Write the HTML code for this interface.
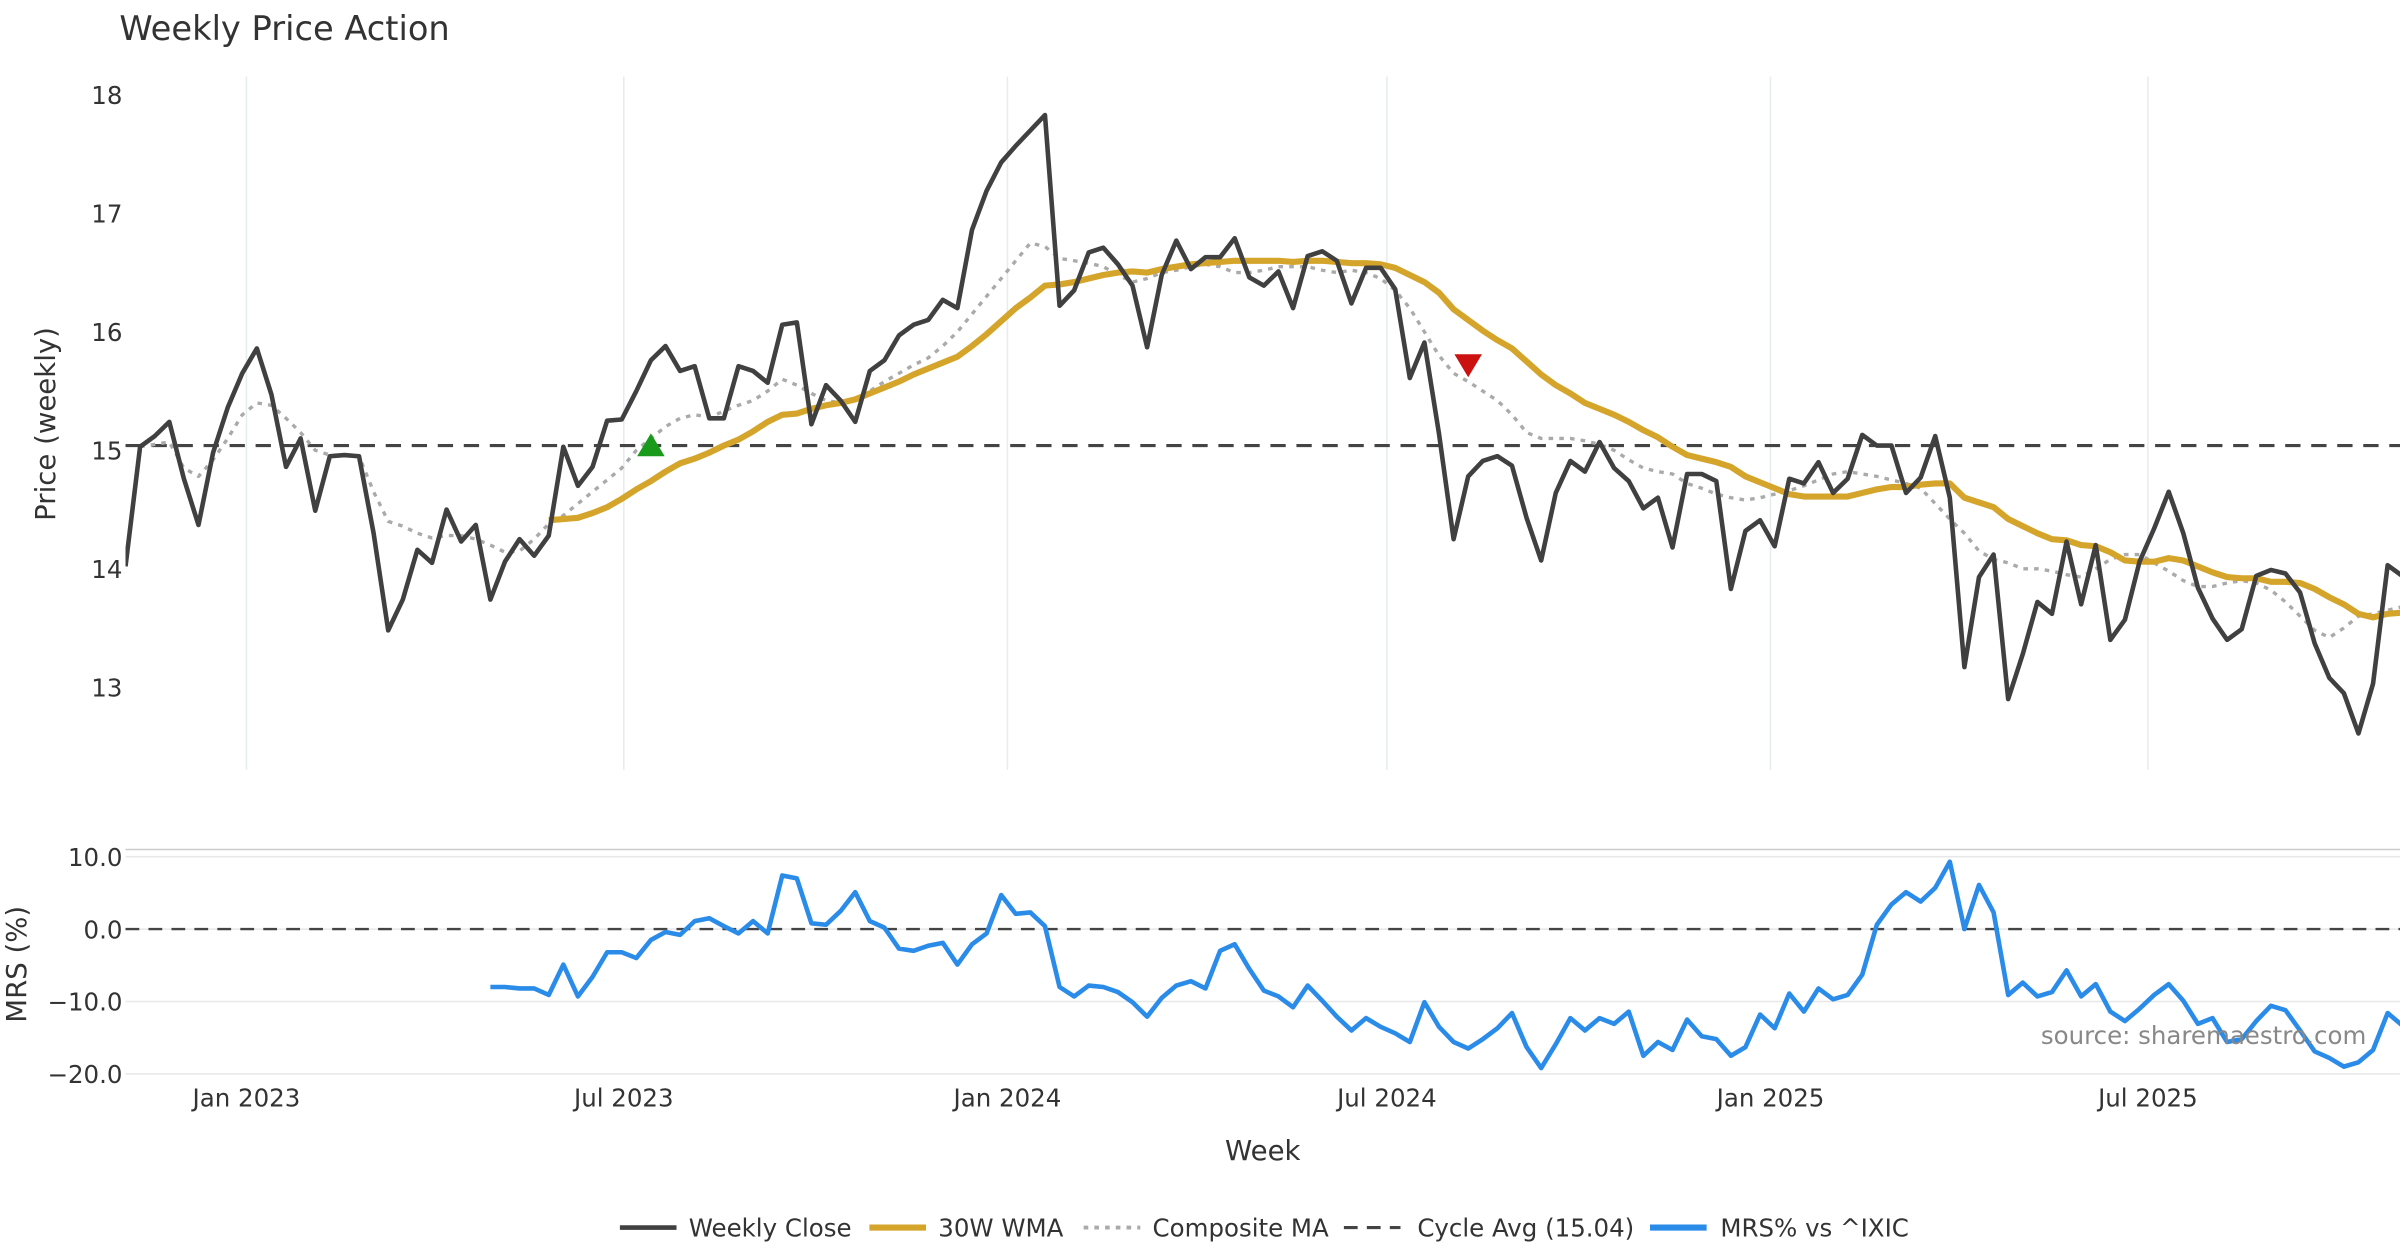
<!DOCTYPE html>
<html><head><meta charset="utf-8"><style>
html,body{margin:0;padding:0;background:#fff}
svg{display:block}
text{font-family:"DejaVu Sans","Liberation Sans",sans-serif;fill:#333}
</style></head><body>
<svg id="chart" width="2400" height="1260" viewBox="0 0 1568 823.2" xmlns="http://www.w3.org/2000/svg">
<defs>
<clipPath id="cTop"><rect x="82" y="45" width="1486" height="460"/></clipPath>
<clipPath id="cBot"><rect x="82" y="550" width="1486" height="160"/></clipPath>
</defs>
<text x="78" y="26" font-size="22">Weekly Price Action</text>
<g id="gridTop"></g><g id="gridBot"></g>
<line x1="82" x2="1568" y1="555" y2="555" stroke="#ccc" stroke-width="1"/>
<g id="topPlot" clip-path="url(#cTop)"></g>
<g id="botPlot" clip-path="url(#cBot)"></g>
<g id="axesG"></g>
<text transform="translate(36,277) rotate(-90)" text-anchor="middle" font-size="18">Price (weekly)</text>
<text transform="translate(17,630) rotate(-90)" text-anchor="middle" font-size="18">MRS (%)</text>
<text x="825" y="758" text-anchor="middle" font-size="18">Week</text>
<text x="1546" y="682" text-anchor="end" font-size="16" style="fill:#888">source: sharemaestro.com</text>
<g id="legendG"></g>
</svg>
<script>
const closeVals=[14.02,15.03,15.12,15.24,14.76,14.37,14.98,15.36,15.65,15.86,15.47,14.86,15.1,14.49,14.95,14.96,14.95,14.3,13.48,13.74,14.16,14.05,14.5,14.23,14.37,13.74,14.06,14.25,14.11,14.28,15.03,14.7,14.86,15.25,15.26,15.5,15.76,15.88,15.67,15.71,15.27,15.27,15.71,15.67,15.57,16.06,16.08,15.22,15.55,15.42,15.24,15.67,15.76,15.97,16.06,16.1,16.27,16.2,16.86,17.19,17.43,17.57,17.7,17.83,16.22,16.35,16.67,16.71,16.57,16.39,15.87,16.48,16.77,16.53,16.63,16.63,16.79,16.46,16.39,16.51,16.2,16.64,16.68,16.6,16.24,16.54,16.54,16.36,15.61,15.91,15.14,14.25,14.78,14.91,14.95,14.87,14.43,14.07,14.64,14.91,14.82,15.07,14.85,14.74,14.51,14.6,14.18,14.8,14.8,14.74,13.83,14.32,14.41,14.19,14.76,14.72,14.9,14.64,14.76,15.13,15.04,15.04,14.64,14.77,15.12,14.6,13.17,13.93,14.12,12.9,13.28,13.72,13.62,14.23,13.7,14.2,13.4,13.57,14.06,14.34,14.65,14.3,13.84,13.58,13.4,13.49,13.94,13.99,13.96,13.8,13.37,13.08,12.95,12.61,13.03,14.03,13.94];
const wmaVals=[14.41,14.42,14.43,14.47,14.52,14.59,14.67,14.74,14.82,14.89,14.93,14.98,15.04,15.09,15.16,15.24,15.3,15.31,15.35,15.38,15.4,15.43,15.48,15.53,15.58,15.64,15.69,15.74,15.79,15.88,15.98,16.09,16.2,16.29,16.39,16.4,16.42,16.45,16.48,16.5,16.51,16.5,16.53,16.55,16.57,16.58,16.59,16.6,16.6,16.6,16.6,16.59,16.6,16.6,16.59,16.58,16.58,16.57,16.54,16.48,16.42,16.33,16.19,16.1,16.01,15.93,15.86,15.75,15.64,15.55,15.48,15.4,15.35,15.3,15.24,15.17,15.11,15.03,14.96,14.93,14.9,14.86,14.78,14.73,14.68,14.63,14.61,14.61,14.61,14.61,14.64,14.67,14.69,14.69,14.71,14.72,14.72,14.6,14.56,14.52,14.42,14.36,14.3,14.25,14.24,14.2,14.19,14.14,14.07,14.06,14.06,14.09,14.07,14.02,13.97,13.93,13.92,13.92,13.89,13.89,13.88,13.83,13.76,13.7,13.62,13.59,13.62,13.63];
const compVals=[15.03,15.05,15.07,14.85,14.78,14.92,15.1,15.3,15.4,15.38,15.27,15.15,15.0,14.96,14.96,14.95,14.65,14.4,14.36,14.3,14.26,14.28,14.28,14.25,14.2,14.14,14.15,14.25,14.38,14.45,14.55,14.65,14.75,14.85,15.0,15.1,15.2,15.27,15.3,15.28,15.33,15.38,15.42,15.5,15.6,15.55,15.48,15.42,15.4,15.42,15.5,15.58,15.65,15.72,15.78,15.88,16.0,16.15,16.3,16.45,16.6,16.75,16.72,16.62,16.6,16.58,16.55,16.48,16.42,16.45,16.5,16.52,16.55,16.57,16.55,16.5,16.5,16.52,16.55,16.55,16.55,16.52,16.5,16.52,16.5,16.45,16.35,16.2,16.0,15.8,15.65,15.58,15.5,15.42,15.3,15.15,15.1,15.1,15.1,15.08,15.05,15.0,14.92,14.85,14.82,14.8,14.72,14.68,14.63,14.6,14.58,14.6,14.63,14.66,14.7,14.75,14.8,14.82,14.8,14.78,14.75,14.72,14.68,14.55,14.42,14.3,14.15,14.08,14.05,14.0,14.0,13.98,13.95,13.93,14.0,14.08,14.12,14.12,14.05,13.98,13.9,13.85,13.85,13.88,13.9,13.88,13.82,13.72,13.6,13.48,13.42,13.5,13.6,13.62,13.65,13.68];
const mrsVals=[-8.0,-8.0,-8.2,-8.2,-9.1,-4.9,-9.3,-6.6,-3.2,-3.2,-4.0,-1.5,-0.4,-0.8,1.1,1.5,0.4,-0.6,1.1,-0.6,7.4,7.0,0.8,0.6,2.5,5.1,1.1,0.2,-2.7,-3.0,-2.3,-1.9,-4.9,-2.1,-0.6,4.7,2.1,2.3,0.4,-8.0,-9.3,-7.8,-8.0,-8.7,-10.1,-12.1,-9.5,-7.8,-7.2,-8.2,-3.0,-2.1,-5.5,-8.5,-9.3,-10.8,-7.8,-9.9,-12.1,-14.0,-12.3,-13.5,-14.4,-15.6,-10.1,-13.5,-15.6,-16.5,-15.2,-13.7,-11.6,-16.3,-19.2,-15.9,-12.3,-14.0,-12.3,-13.1,-11.4,-17.5,-15.6,-16.7,-12.5,-14.8,-15.2,-17.5,-16.3,-11.8,-13.7,-8.9,-11.4,-8.2,-9.7,-9.1,-6.3,0.6,3.4,5.1,3.8,5.7,9.3,0.0,6.1,2.3,-9.1,-7.4,-9.3,-8.7,-5.7,-9.3,-7.6,-11.4,-12.7,-11.0,-9.1,-7.6,-9.9,-13.1,-12.3,-15.6,-15.2,-12.7,-10.6,-11.2,-14.0,-16.9,-17.8,-19.0,-18.4,-16.7,-11.6,-13.3];
const cycleAvg=15.04;
const buySignal={week:36,price:15.04};
const sellSignal={week:92,price:15.72};
const priceTicks=[13,14,15,16,17,18];
const mrsTicks=[10,0,-10,-20];
const mrsTickLabels=["10.0","0.0","\u221210.0","\u221220.0"];
const dateTicks=["2023-01-01","2023-07-01","2024-01-01","2024-07-01","2025-01-01","2025-07-01"];
const dateTickLabels=["Jan 2023","Jul 2023","Jan 2024","Jul 2024","Jan 2025","Jul 2025"];
const startDate="2022-11-04";

const NS="http://www.w3.org/2000/svg";
const N=closeVals.length;
const X0=82, XSTEP=9.535;
const xW=i=>X0+i*XSTEP;
const xD=d=>X0+(Date.parse(d)-Date.parse(startDate))/(7*864e5)*XSTEP;
const yP=v=>62+(18-v)*77.4;
const yM=v=>607-v*4.73;
function mk(tag,attrs,parent){const e=document.createElementNS(NS,tag);for(const k in attrs)e.setAttribute(k,attrs[k]);parent.appendChild(e);return e;}
const topG=document.getElementById('topPlot'),botG=document.getElementById('botPlot'),axesG=document.getElementById('axesG');
const gT=document.getElementById('gridTop'),gB=document.getElementById('gridBot');
dateTicks.forEach((d,k)=>{
  const x=xD(d);
  const l=mk('line',{x1:x,x2:x,y1:50,y2:503,stroke:'#e6ecf0','stroke-width':1},gT);
  
  
  const t=mk('text',{x:x,y:723,'text-anchor':'middle','font-size':16},axesG);
  t.textContent=dateTickLabels[k];
  
  
});
priceTicks.forEach(v=>{
  const t=mk('text',{x:80,y:yP(v)+6,'text-anchor':'end','font-size':16},axesG);
  t.textContent=v;
  
  
});
mrsTicks.forEach((v,k)=>{
  const l=mk('line',{x1:82,x2:1568,y1:yM(v),y2:yM(v),stroke:'#e8e8e8','stroke-width':1},gB);
  
  
  const t=mk('text',{x:80,y:yM(v)+6,'text-anchor':'end','font-size':16},axesG);
  t.textContent=mrsTickLabels[k];
  
  
});
function line(arr,off,yf,style,parent){
  const d=arr.map((v,i)=>(i?'L':'M')+xW(i+off).toFixed(2)+' '+yf(v).toFixed(2)).join(' ');
  return mk('path',Object.assign({d:d,fill:'none','stroke-linejoin':'round'},style),parent);
}
let e;
e=mk('line',{x1:82,x2:1568,y1:yP(cycleAvg),y2:yP(cycleAvg),stroke:'#444','stroke-width':2,'stroke-dasharray':'10 7'},topG);


e=line(compVals,1,yP,{stroke:'#aaa','stroke-width':2.2,'stroke-dasharray':'3 4'},topG);


e=line(wmaVals,N-wmaVals.length,yP,{stroke:'#d4a52a','stroke-width':4},topG);


e=line(closeVals,0,yP,{stroke:'#404040','stroke-width':3},topG);


{const x=xW(buySignal.week),y=yP(buySignal.price);
e=mk('path',{d:`M${x-9} ${y+7} L${x+9} ${y+7} L${x} ${y-8} Z`,fill:'#1a9a1a'},topG);

}
{const x=xW(sellSignal.week),y=yP(sellSignal.price);
e=mk('path',{d:`M${x-9} ${y-7} L${x+9} ${y-7} L${x} ${y+8} Z`,fill:'#cc1111'},topG);

}
e=mk('line',{x1:82,x2:1568,y1:yM(0),y2:yM(0),stroke:'#444','stroke-width':1.6,'stroke-dasharray':'9 6'},botG);


e=line(mrsVals,N-mrsVals.length,yM,{stroke:'#2a8ce8','stroke-width':3},botG);


const lg=document.getElementById('legendG');
const items=[["Weekly Close",{stroke:'#404040','stroke-width':3},405,450],["30W WMA",{stroke:'#d4a52a','stroke-width':4},568,613],["Composite MA",{stroke:'#aaa','stroke-width':2.5,'stroke-dasharray':'3 4'},708,753],["Cycle Avg (15.04)",{stroke:'#444','stroke-width':2,'stroke-dasharray':'9 6'},878,926],["MRS% vs ^IXIC",{stroke:'#2a8ce8','stroke-width':4},1078,1124]];
items.forEach(it=>{
  const g=mk('g',{},lg);
  
  
  mk('line',Object.assign({x1:it[2],x2:it[2]+37,y1:802,y2:802},it[1]),g);
  const t=mk('text',{x:it[3],y:808,'font-size':16},g);
  t.textContent=it[0];
});
</script>
</body></html>
